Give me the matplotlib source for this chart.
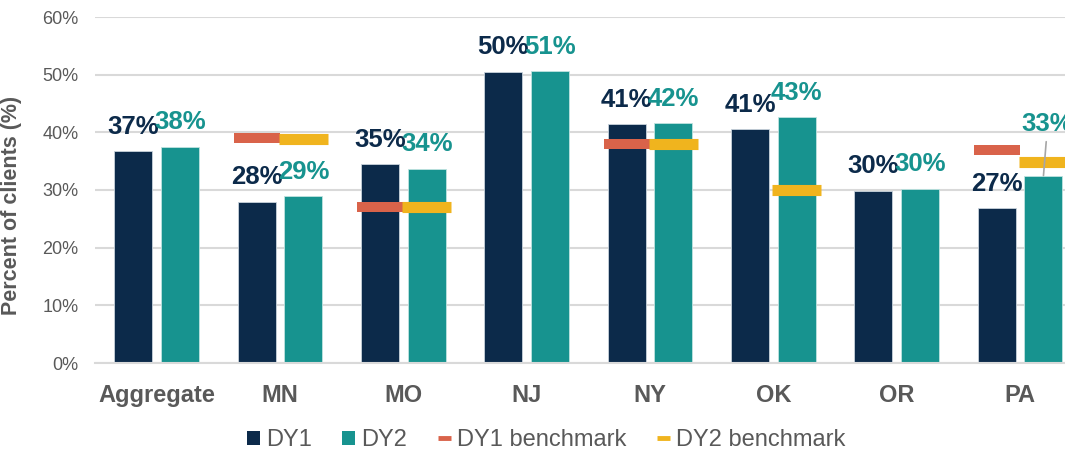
import matplotlib
matplotlib.use("Agg")
import matplotlib.pyplot as plt
from matplotlib.patches import Patch
from matplotlib.lines import Line2D
import numpy as np

plt.rcParams['font.family'] = ['Liberation Sans', 'DejaVu Sans']

# Data
categories = ["Aggregate", "MN", "MO", "NJ", "NY", "OK", "OR", "PA"]
dy1 = [36.7, 28.0, 34.5, 50.5, 41.4, 40.6, 29.9, 26.9]
dy2 = [37.5, 28.9, 33.7, 50.6, 41.6, 42.6, 30.2, 32.5]
dy1_labels = ["37%", "28%", "35%", "50%", "41%", "41%", "30%", "27%"]
dy2_labels = ["38%", "29%", "34%", "51%", "42%", "43%", "30%", "33%"]
# benchmarks (None = no benchmark shown)
dy1_bench = [None, 39.0, 27.0, None, 37.9, None, None, 37.0]
dy2_bench = [None, 38.9, 27.0, None, 38.0, 30.0, None, 34.9]

C_DY1 = '#0C2A4A'
C_DY2 = '#17938F'
C_B1 = '#D9634A'
C_B2 = '#F0B41E'
GREY = '#595959'
GRID = '#D9D9D9'

fig = plt.figure(figsize=(10.65, 4.55), dpi=100)
ax = fig.add_axes([95 / 1065, 1 - 363 / 455, 986.7 / 1065, 346 / 455])

x = np.arange(len(categories))
bw = 0.308
off = 0.19

ax.bar(x - off, dy1, bw, color=C_DY1, edgecolor='#C8D3DC', linewidth=0.6, zorder=2)
ax.bar(x + off, dy2, bw, color=C_DY2, edgecolor='#BFE3E0', linewidth=0.6, zorder=2)

# benchmark markers
for i in range(len(categories)):
    if dy1_bench[i] is not None:
        ax.hlines(dy1_bench[i], x[i] - off - 0.187, x[i] - off + 0.187,
                  color=C_B1, linewidth=7.2, zorder=3)
    if dy2_bench[i] is not None:
        ax.hlines(dy2_bench[i], x[i] + off - 0.2, x[i] + off + 0.2,
                  color=C_B2, linewidth=8, zorder=3)

# data labels
lab_kw = dict(textcoords='offset points', ha='center', va='baseline',
              fontsize=18.5, fontweight='bold', zorder=4)
for i in range(len(categories)):
    ax.annotate(dy1_labels[i], (x[i] - off, dy1[i]), xytext=(0, 12.5),
                color=C_DY1, **lab_kw)
    if categories[i] == "PA":
        # label lifted above the benchmark, with a leader line
        ax.annotate(dy2_labels[i], (x[i] + off, dy2[i]), xytext=(3, 32),
                    color=C_DY2, annotation_clip=False,
                    arrowprops=dict(arrowstyle='-', color='#A6A6A6', lw=1.2,
                                    shrinkA=2, shrinkB=0), **lab_kw)
    else:
        ax.annotate(dy2_labels[i], (x[i] + off, dy2[i]), xytext=(0, 12.5),
                    color=C_DY2, **lab_kw)

ax.set_xlim(-0.5, len(categories) - 0.5)
ax.set_ylim(0, 60)
ax.set_yticks(np.arange(0, 61, 10))
ax.set_yticklabels([f"{v}%" for v in range(0, 61, 10)])
ax.set_xticks(x)
ax.set_xticklabels(categories, fontweight='bold')
ax.tick_params(axis='y', length=0, pad=12, labelsize=13, labelcolor=GREY)
ax.tick_params(axis='x', length=0, pad=15, labelsize=17, labelcolor=GREY)
ax.yaxis.grid(True, color=GRID, linewidth=1.5, zorder=0)
ax.set_axisbelow(True)
for s in ['top', 'right', 'left']:
    ax.spines[s].set_visible(False)
ax.spines['bottom'].set_color(GRID)
ax.spines['bottom'].set_linewidth(1.5)

ax.set_ylabel("Percent of clients (%)", fontsize=15.5, fontweight='bold', color=GREY)
ax.yaxis.set_label_coords(-0.074, 0.454)

handles = [
    Patch(facecolor=C_DY1),
    Patch(facecolor=C_DY2),
    Line2D([0], [0], color=C_B1, lw=3.5, solid_capstyle='butt'),
    Line2D([0], [0], color=C_B2, lw=3.5, solid_capstyle='butt'),
]
fig.legend(handles, ["DY1", "DY2", "DY1 benchmark", "DY2 benchmark"],
           loc='center', bbox_to_anchor=(546 / 1065, 1 - 440 / 455), ncol=4,
           frameon=False, fontsize=17, labelcolor=GREY,
           handlelength=0.55, handleheight=0.55, handletextpad=0.25,
           columnspacing=1.3)

fig.savefig("out.png", dpi=100)
